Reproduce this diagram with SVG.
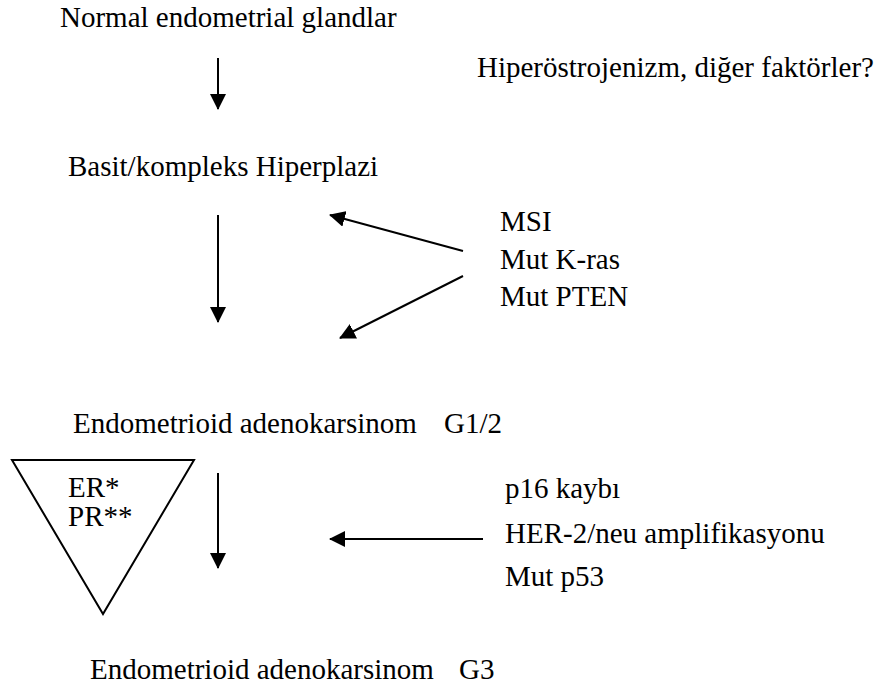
<svg xmlns="http://www.w3.org/2000/svg" width="882" height="695" viewBox="0 0 882 695">
<style>
text{font-family:"Liberation Serif","Times New Roman",serif;font-size:29px;fill:#000}
.ln{stroke:#000;stroke-width:2;fill:none}
</style>
<defs>
<marker id="ah" markerUnits="userSpaceOnUse" markerWidth="16" markerHeight="16" viewBox="0 0 16 16" refX="15" refY="8" orient="auto">
<path d="M0,0 L16,8 L0,16 Z" fill="#000"/>
</marker>
</defs>
<rect width="882" height="695" fill="#fff"/>
<g id="n-normal"><text x="60" y="27">Normal endometrial glandlar</text></g>
<g id="n-hiper"><text x="477" y="77">Hiperöstrojenizm, diğer faktörler?</text></g>
<g id="n-basit"><text x="68" y="176">Basit/kompleks Hiperplazi</text></g>
<g id="n-msi"><text x="500" y="231">MSI</text><text x="500" y="269">Mut K-ras</text><text x="500" y="306">Mut PTEN</text></g>
<g id="n-g12"><text x="73" y="433">Endometrioid adenokarsinom<tspan x="444">G1/2</tspan></text></g>
<g id="n-tri"><polygon points="12,460 194,460 103,614" class="ln"/><text x="68" y="497">ER*</text><text x="68" y="526">PR**</text></g>
<g id="n-p16"><text x="505" y="498">p16 kaybı</text><text x="505" y="543">HER-2/neu amplifikasyonu</text><text x="505" y="586">Mut p53</text></g>
<g id="n-g3"><text x="90" y="679">Endometrioid adenokarsinom<tspan x="459">G3</tspan></text></g>
<g id="connectors">
<line x1="218" y1="58" x2="218" y2="109" class="ln" marker-end="url(#ah)"/>
<line x1="218" y1="215" x2="218" y2="322" class="ln" marker-end="url(#ah)"/>
<line x1="463" y1="251" x2="330" y2="215" class="ln" marker-end="url(#ah)"/>
<line x1="463" y1="276" x2="340" y2="338" class="ln" marker-end="url(#ah)"/>
<line x1="218" y1="473" x2="218" y2="568" class="ln" marker-end="url(#ah)"/>
<line x1="483" y1="539" x2="330" y2="539" class="ln" marker-end="url(#ah)"/>
</g>
</svg>
